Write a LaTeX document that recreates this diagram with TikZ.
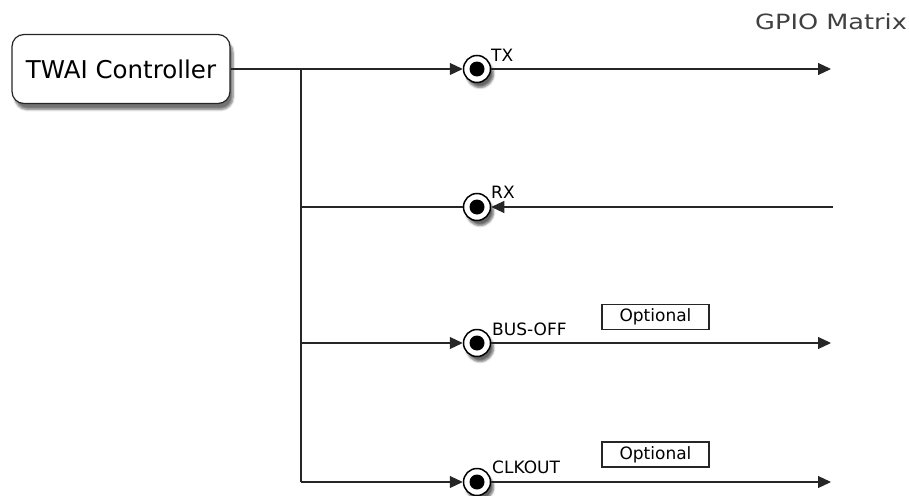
\documentclass[tikz,border=0pt]{standalone}
\usepackage{fontspec}
\usepackage{graphicx}
\setmainfont{DejaVu Sans}
\usetikzlibrary{arrows.meta,shadows.blur}
\begin{document}
\begin{tikzpicture}[x=1pt,y=-1pt,
  wire/.style={line width=1.1pt,draw=black!85},
  arr/.style={wire,-{Triangle[length=13pt,width=12pt]}},
  ctrlbox/.style={draw=black!85,line width=1.2pt,rounded corners=12pt,fill=white,
     minimum width=218pt,minimum height=69pt,font=\fontsize{24.5}{26}\selectfont,
     blur shadow={shadow xshift=3pt,shadow yshift=-6pt,shadow blur steps=6,shadow opacity=55}},
  pinring/.style={circle,draw=black,line width=1.5pt,fill=white,minimum size=27pt,inner sep=0pt,
     blur shadow={shadow xshift=3pt,shadow yshift=-5pt,shadow blur steps=5,shadow opacity=60}},
  pindot/.style={circle,fill=black,minimum size=15pt,inner sep=0pt},
  pinlabel/.style={anchor=base west,inner sep=0pt,font=\fontsize{17}{18}\selectfont},
  optbox/.style={draw=black!85,line width=1.2pt,minimum width=107pt,minimum height=25pt,inner sep=0pt,
     font=\fontsize{17}{18}\selectfont}
]
\useasboundingbox (0,0) rectangle (909,495);

\node[ctrlbox] (ctrl) at (121,69) {TWAI Controller};
\node[anchor=base west,inner sep=0pt,text=black!75] (gpio) at (755,30)
  {\scalebox{1.22}[1]{\fontsize{21}{22}\selectfont GPIO Matrix}};

% pins
\node[pinring] (tx) at (477,69) {};
\node[pindot] (txd) at (tx.center) {};
\node[pinring] (rx) at (477,207) {};
\node[pindot] (rxd) at (rx.center) {};
\node[pinring] (bo) at (477,343) {};
\node[pindot] (bod) at (bo.center) {};
\node[pinring] (ck) at (477,482) {};
\node[pindot] (ckd) at (ck.center) {};

\node[pinlabel] (txl) at (491,61) {TX};
\node[pinlabel] (rxl) at (491,198) {RX};
\node[pinlabel] (bol) at (492,335) {BUS-OFF};
\node[pinlabel] (ckl) at (492,473) {CLKOUT};

\node[optbox] (opt1) at (655.5,317) {Optional};
\node[optbox] (opt2) at (655.5,454.5) {Optional};

% junctions and free ends
\coordinate (j1) at (301,69);
\coordinate (j2) at (301,207);
\coordinate (j3) at (301,343);
\coordinate (j4) at (301,482);
\coordinate (txend) at (831,69);
\coordinate (rxend) at (833,207);
\coordinate (boend) at (831,343);
\coordinate (ckend) at (831,482);

\draw[wire] (j1) -- (j4);
\draw[arr] (ctrl.east) -- (tx.west);
\draw[wire] (j2) -- (rx.west);
\draw[arr] (j3) -- (bo.west);
\draw[arr] (j4) -- (ck.west);

\draw[arr] (tx.east) -- (txend);
\draw[arr] (rxend) -- (rx.east);
\draw[arr] (bo.east) -- (boend);
\draw[arr] (ck.east) -- (ckend);
\end{tikzpicture}
\end{document}
